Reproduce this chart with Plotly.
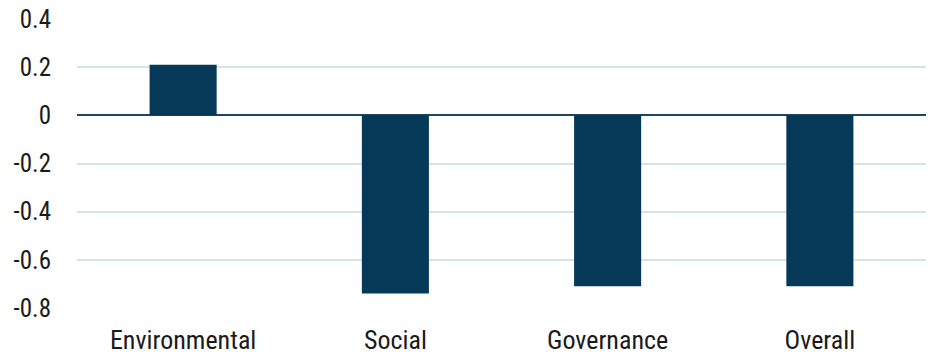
import plotly.graph_objects as go

categories = ["Environmental", "Social", "Governance", "Overall"]
values = [0.21, -0.74, -0.71, -0.71]
tick_vals = [0.4, 0.2, 0, -0.2, -0.4, -0.6, -0.8]
tick_text = ["0.4", "0.2", "0", "-0.2", "-0.4", "-0.6", "-0.8"]

font_family = "Roboto Condensed, DejaVu Sans Condensed, Roboto, sans-serif"

fig = go.Figure(go.Bar(x=categories, y=values, marker=dict(color="#053957", line=dict(width=0))))

fig.update_layout(
    width=934, height=356,
    margin=dict(l=77, r=8, t=19, b=48),
    paper_bgcolor="white", plot_bgcolor="white",
    bargap=0.684,
    showlegend=False,
    font=dict(family=font_family, size=26, color="#1a1a1a"),
)
fig.update_yaxes(
    range=[-0.8, 0.4], tickvals=tick_vals, ticktext=tick_text,
    showgrid=True, gridcolor="#d3e3ec", gridwidth=2,
    zeroline=True, zerolinecolor="#1f4560", zerolinewidth=2,
    ticks="", ticklabelstandoff=25, showline=False, automargin=False,
    tickfont=dict(size=25),
)
fig.update_xaxes(showgrid=False, showline=False, ticks="", ticklabelstandoff=14, automargin=False)

fig.write_html("out.html")
